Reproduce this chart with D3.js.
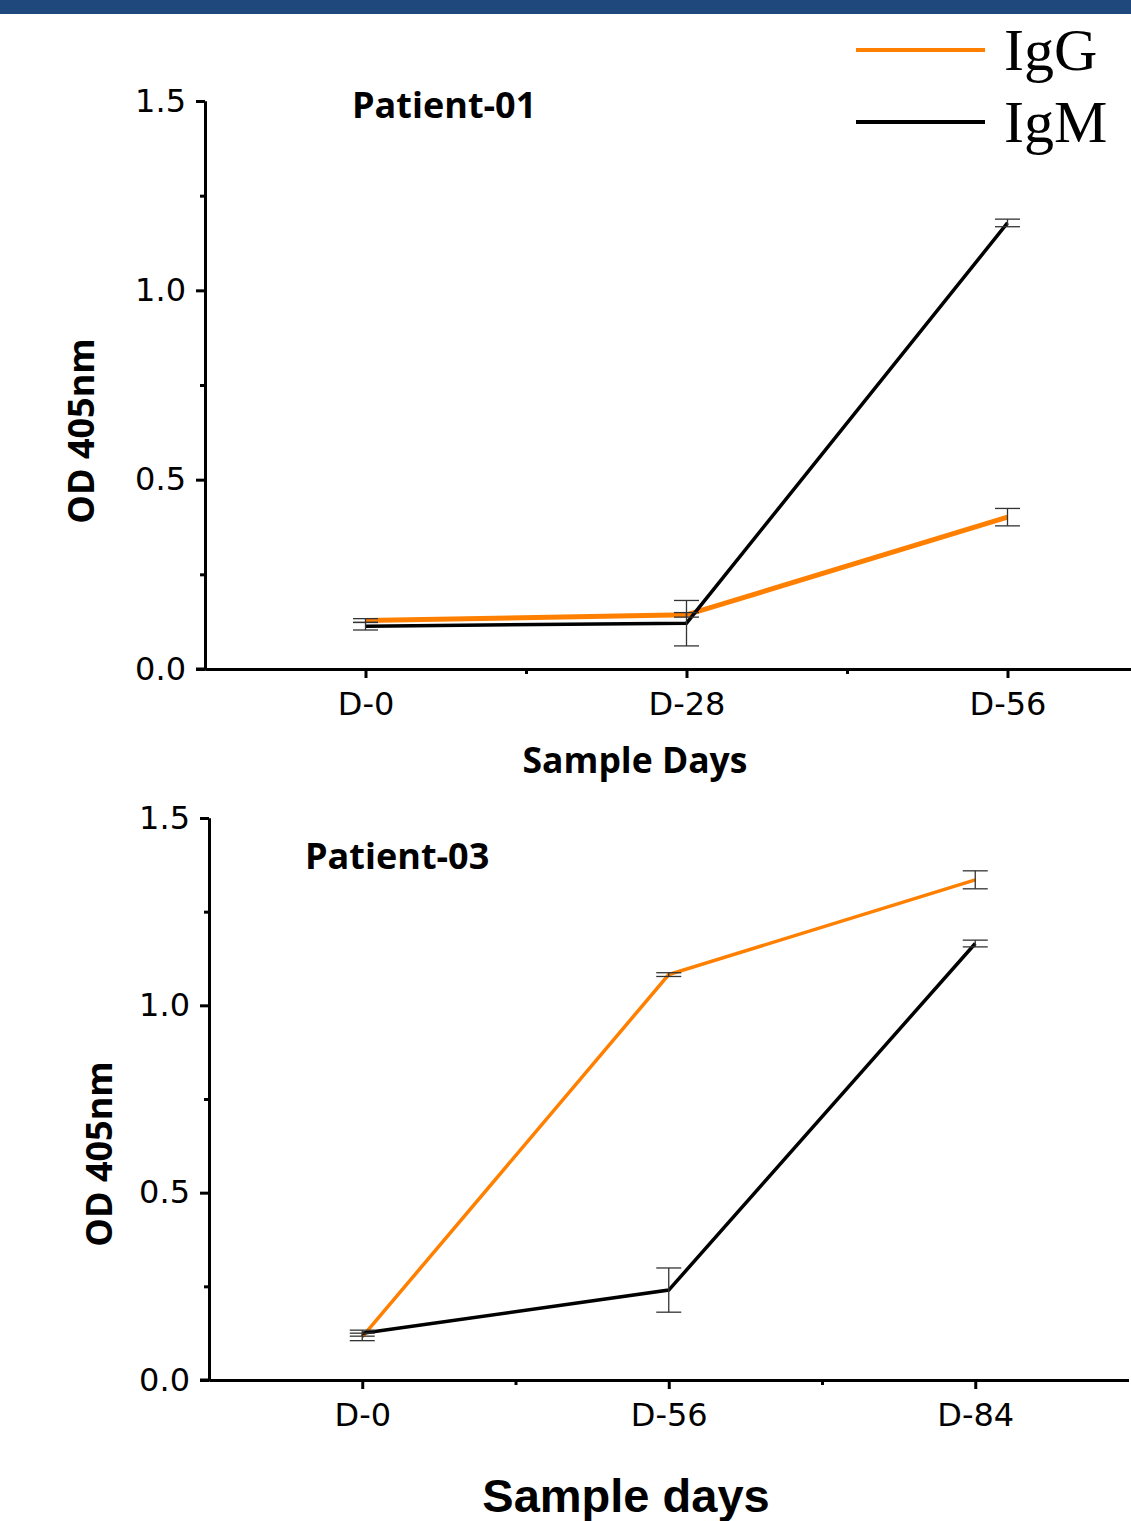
<html>
<head>
<title>OD 405nm by sample day</title>
<script type="text/javascript" src="https://cdn.jsdelivr.net/npm/d3@7/dist/d3.min.js"></script>
<style type="text/css">
body { margin: 0; background: white; }
.tick text { font-family: "DejaVu Sans", sans-serif; fill: #000; }
.label { font-family: "Open Sans", sans-serif; font-weight: bold; }
</style>
</head>
<body>
<script>

  // data
  var days1 = ["D-0", "D-28", "D-56"];
  var igg1 = [0.128, 0.143, 0.401];
  var igg1Err = [0.005, 0.006, 0.023];
  var igm1 = [0.113, 0.121, 1.178];
  var igm1Err = [0.010, 0.060, 0.010];

  var days2 = ["D-0", "D-56", "D-84"];
  var igg2 = [0.115, 1.082, 1.335];
  var igg2Err = [0.010, 0.005, 0.024];
  var igm2 = [0.125, 0.240, 1.165];
  var igm2Err = [0.008, 0.059, 0.009];

  var yTicks = [0, 0.5, 1.0, 1.5];
  var yMinor = [0.25, 0.75, 1.25];
  var seriesNames = ["IgG", "IgM"];
  var seriesColors = ["#ff8000", "#000000"];

  var width = 1131, height = 1521;

  var svg = d3.select("body").append("svg")
    .attr("width", width).attr("height", height)
    .style("background", "white");

  // top band
  svg.append("rect").attr("x", 0).attr("y", 0)
    .attr("width", width).attr("height", 14)
    .attr("fill", "#1f497d");

  function drawPanel(p)
  {
    var x = d3.scaleLinear().domain([-0.5, 2.5]).range([p.left, p.left + 3 * p.step]);
    var y = d3.scaleLinear().domain([0, 1.5]).range([p.bottom, p.top]);
    var g = svg.append("g");

    // x axis
    var xa = g.append("g").attr("transform", "translate(0," + p.bottom + ")")
      .call(d3.axisBottom(x).tickValues([0, 1, 2]).tickFormat(function(i){ return p.days[i]; })
        .tickSize(9).tickSizeOuter(0).tickPadding(14));
    xa.selectAll("text").attr("font-size", 32);
    g.append("g").attr("transform", "translate(0," + p.bottom + ")")
      .call(d3.axisBottom(x).tickValues([0.5, 1.5]).tickFormat("").tickSize(5).tickSizeOuter(0));

    // y axis
    var ya = g.append("g").attr("transform", "translate(" + p.left + ",0)")
      .call(d3.axisLeft(y).tickValues(yTicks).tickFormat(d3.format(".1f"))
        .tickSize(9).tickSizeOuter(0).tickPadding(10));
    ya.selectAll("text").attr("font-size", 32);
    g.append("g").attr("transform", "translate(" + p.left + ",0)")
      .call(d3.axisLeft(y).tickValues(yMinor).tickFormat("").tickSize(5).tickSizeOuter(0));

    g.selectAll(".domain, .tick line").attr("stroke", "#000").attr("stroke-width", 3);
    // extend x axis line to the left past y axis
    g.append("line").attr("x1", p.left - 9).attr("x2", p.left)
      .attr("y1", p.bottom).attr("y2", p.bottom)
      .attr("stroke", "#000").attr("stroke-width", 3);

    var liner = d3.line()
      .x(function(d, i){ return x(i); })
      .y(function(d){ return y(d); });

    var series = [
      { vals: p.igg, err: p.iggErr, color: seriesColors[0], w: p.iggWidth },
      { vals: p.igm, err: p.igmErr, color: seriesColors[1], w: 3.5 }
    ];

    series.forEach(function(s){
      g.append("path").datum(s.vals)
        .attr("d", liner)
        .attr("fill", "none")
        .attr("stroke", s.color)
        .attr("stroke-width", s.w);
    });

    series.forEach(function(s){
      s.vals.forEach(function(v, i){
        var cx = x(i), lo = y(v - s.err[i]), hi = y(v + s.err[i]);
        var eb = g.append("g").attr("stroke", "#333").attr("stroke-width", 1.3);
        eb.append("line").attr("x1", cx).attr("x2", cx).attr("y1", lo).attr("y2", hi);
        eb.append("line").attr("x1", cx - 12.5).attr("x2", cx + 12.5).attr("y1", lo).attr("y2", lo);
        eb.append("line").attr("x1", cx - 12.5).attr("x2", cx + 12.5).attr("y1", hi).attr("y2", hi);
      });
    });

    g.append("text").attr("class", "label")
      .attr("x", p.titleX).attr("y", p.titleY)
      .attr("font-size", 36).text(p.title);

    g.append("text").attr("class", "label")
      .attr("transform", "translate(" + p.ylabX + "," + p.ylabY + ") rotate(-90)")
      .attr("text-anchor", "middle")
      .attr("font-size", 36).text("OD 405nm");
  }

  drawPanel({
    days: days1, igg: igg1, iggErr: igg1Err, igm: igm1, igmErr: igm1Err,
    left: 205, step: 321, top: 101, bottom: 669, iggWidth: 5,
    title: "Patient-01", titleX: 352, titleY: 118, ylabX: 94, ylabY: 431
  });

  drawPanel({
    days: days2, igg: igg2, iggErr: igg2Err, igm: igm2, igmErr: igm2Err,
    left: 209, step: 306.5, top: 818, bottom: 1380, iggWidth: 3.5,
    title: "Patient-03", titleX: 305, titleY: 869, ylabX: 112, ylabY: 1154
  });

  // x titles
  svg.append("text").attr("class", "label")
    .attr("x", 635).attr("y", 773).attr("text-anchor", "middle")
    .attr("font-size", 35.5).text("Sample Days");

  svg.append("text")
    .attr("x", 626).attr("y", 1512).attr("text-anchor", "middle")
    .attr("font-family", "'Liberation Sans', Arial, sans-serif")
    .attr("font-weight", "bold")
    .attr("font-size", 47).text("Sample days");

  // legend
  var leg = svg.append("g");
  seriesNames.forEach(function(name, i){
    var ly = 50 + i * 72;
    leg.append("line").attr("x1", 856).attr("x2", 985)
      .attr("y1", ly).attr("y2", ly)
      .attr("stroke", seriesColors[i]).attr("stroke-width", 4);
    leg.append("text").attr("x", 1004).attr("y", ly + 20)
      .attr("font-family", "'Liberation Serif', 'Times New Roman', serif")
      .attr("font-size", 60).text(name);
  });

</script>
</body>
</html>
